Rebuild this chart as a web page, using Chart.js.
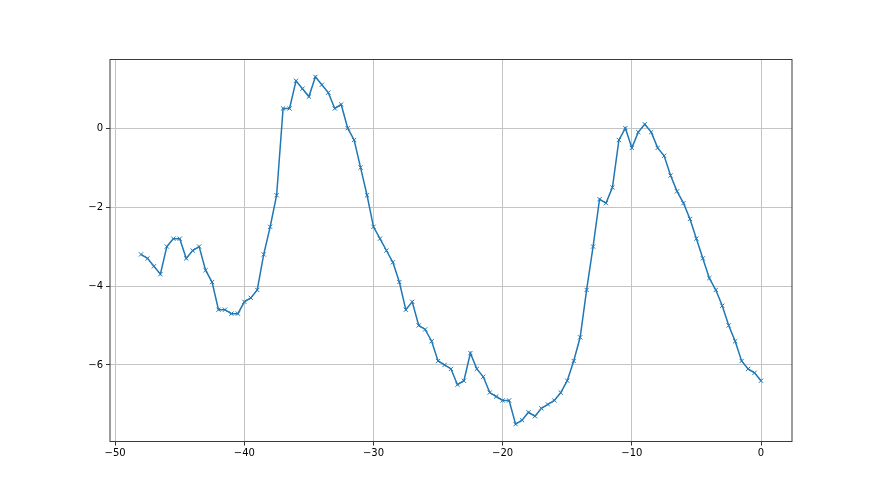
<!DOCTYPE html>
<html>
<head>
<meta charset="utf-8">
<script src="https://cdn.jsdelivr.net/npm/chart.js@4/dist/chart.umd.min.js"></script>
<style>
  html, body { margin: 0; padding: 0; background: #fff; }
  #wrap { width: 880px; height: 495px; position: relative; }
</style>
</head>
<body>
<div id="wrap"><canvas id="c" width="880" height="495"></canvas></div>
<script>
const xValues = [];
for (let i = 0; i <= 96; i++) xValues.push(-48 + i * 0.5);

const yValues = [
  -3.2, -3.3, -3.5, -3.7, -3.0, -2.8, -2.8, -3.3, -3.1, -3.0,
  -3.6, -3.9, -4.6, -4.6, -4.7, -4.7, -4.4, -4.3, -4.1, -3.2,
  -2.5, -1.7, 0.5, 0.5, 1.2, 1.0, 0.8, 1.3, 1.1, 0.9,
  0.5, 0.6, 0.0, -0.3, -1.0, -1.7, -2.5, -2.8, -3.1, -3.4,
  -3.9, -4.6, -4.4, -5.0, -5.1, -5.4, -5.9, -6.0, -6.1, -6.5,
  -6.4, -5.7, -6.1, -6.3, -6.7, -6.8, -6.9, -6.9, -7.5, -7.4,
  -7.2, -7.3, -7.1, -7.0, -6.9, -6.7, -6.4, -5.9, -5.3, -4.1,
  -3.0, -1.8, -1.9, -1.5, -0.3, 0.0, -0.5, -0.1, 0.1, -0.1,
  -0.5, -0.7, -1.2, -1.6, -1.9, -2.3, -2.8, -3.3, -3.8, -4.1,
  -4.5, -5.0, -5.4, -5.9, -6.1, -6.2, -6.4
];

const xTicks = [-50, -40, -30, -20, -10, 0];
const yTicks = [-6, -4, -2, 0];

const points = xValues.map((x, i) => ({ x: x, y: yValues[i] }));

const xMinD = Math.min(...xValues), xMaxD = Math.max(...xValues);
const yMinD = Math.min(...yValues), yMaxD = Math.max(...yValues);
const xPad = (xMaxD - xMinD) * 0.05, yPad = (yMaxD - yMinD) * 0.05;

const fmt = v => String(v).replace('-', '\u2212');

const framePlugin = {
  id: 'frame',
  afterDraw(chart) {
    const a = chart.chartArea, ctx = chart.ctx;
    ctx.save();
    ctx.strokeStyle = '#3a3a3a';
    ctx.lineWidth = 1;
    ctx.strokeRect(a.left, a.top, a.right - a.left, a.bottom - a.top);
    ctx.restore();
  }
};

new Chart(document.getElementById('c'), {
  type: 'line',
  data: {
    datasets: [{
      data: points,
      borderColor: '#1f77b4',
      backgroundColor: 'rgba(0,0,0,0)',
      borderWidth: 1.5,
      pointStyle: 'crossRot',
      pointRadius: 3,
      pointBorderWidth: 1,
      pointBorderColor: '#1f77b4',
      pointHoverRadius: 3,
      tension: 0,
      fill: false
    }]
  },
  options: {
    responsive: false,
    animation: false,
    devicePixelRatio: 1,
    layout: { padding: { left: 0, top: 59.5, right: 88, bottom: 0 } },
    plugins: { legend: { display: false }, tooltip: { enabled: false } },
    scales: {
      x: {
        type: 'linear',
        min: xMinD - xPad,
        max: xMaxD + xPad,
        afterBuildTicks: s => { s.ticks = xTicks.map(v => ({ value: v })); },
        afterFit: s => { s.height = 53.5; },
        grid: { color: '#c4c4c4', lineWidth: 1, tickLength: 4, tickColor: '#333' },
        border: { display: false },
        ticks: {
          callback: v => fmt(v),
          color: '#000',
          padding: 2,
          maxRotation: 0,
          font: { family: 'DejaVu Sans', size: 10 }
        }
      },
      y: {
        type: 'linear',
        min: yMinD - yPad,
        max: yMaxD + yPad,
        afterBuildTicks: s => { s.ticks = yTicks.map(v => ({ value: v })); },
        afterFit: s => { s.width = 110; },
        grid: { color: '#c4c4c4', lineWidth: 1, tickLength: 4, tickColor: '#333' },
        border: { display: false },
        ticks: {
          callback: v => fmt(v),
          color: '#000',
          padding: 3,
          font: { family: 'DejaVu Sans', size: 10 }
        }
      }
    }
  },
  plugins: [framePlugin]
});
</script>
</body>
</html>
